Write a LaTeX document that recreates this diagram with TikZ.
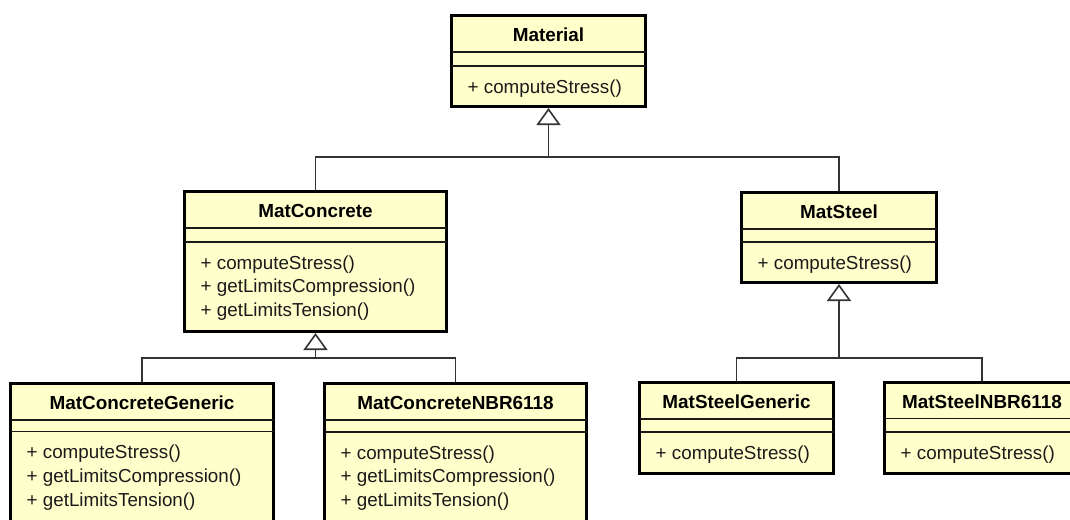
\documentclass[tikz,border=0pt]{standalone}
\usepackage{fontspec}
\setmainfont{Liberation Sans}
\usetikzlibrary{arrows.meta,fit}

\definecolor{classfill}{HTML}{FFFFCC}
\definecolor{ink}{HTML}{1A1A1A}
\definecolor{wire}{HTML}{333333}

\tikzset{
  classbox/.style={rectangle, draw=black, line width=3pt, fill=classfill, inner sep=0pt},
  sepline/.style={draw=ink, line width=1.3pt},
  classname/.style={font=\bfseries\fontsize{18.9}{22}\selectfont, anchor=base, inner sep=0pt, text=black},
  member/.style={font=\fontsize{18.8}{22}\selectfont, anchor=base west, inner sep=0pt, text=ink},
  wireline/.style={draw=wire, line width=1.6pt},
  inherit/.style={wireline, -{Triangle[length=17pt,width=24pt,fill=white]}}
}

% UML class: name, left, top, right, bottom, first separator, second separator, title, operations
\newcommand{\umlclass}[9]{%
  \node[classbox, fit={(#2,#3) (#4,#5)}] (#1) {};
  \draw[sepline] (#2,#6) -- (#4,#6);
  \draw[sepline] (#2,#7) -- (#4,#7);
  \node[classname] (#1-name) at ({(#2+#4)/2},{#6-10.5}) {#8};
  \foreach \m [count=\i] in {#9}
    \node[member] (#1-op\i) at ({#2+16},{#7+27+(\i-1)*23.8}) {\m};
}

\begin{document}
\begin{tikzpicture}[x=1pt,y=-1pt]
  \useasboundingbox (0,0) rectangle (1070,519);
  \fill[white] (0,0) rectangle (1070,519);
  \clip (0,0) rectangle (1070,519);

  \umlclass{material}{451.5}{15.5}{645.5}{106.5}{52}{66}{Material}{+ computeStress()}
  \umlclass{mconcrete}{184.5}{191.5}{446.5}{331.5}{228}{242}{MatConcrete}%
    {+ computeStress(),+ getLimitsCompression(),+ getLimitsTension()}
  \umlclass{msteel}{741.5}{192.5}{936.5}{282.5}{229}{242}{MatSteel}{+ computeStress()}
  \umlclass{mcgeneric}{10.5}{383.5}{273.5}{545}{420}{431.5}{MatConcreteGeneric}%
    {+ computeStress(),+ getLimitsCompression(),+ getLimitsTension()}
  \umlclass{mcnbr}{324.5}{383.5}{586.5}{545}{420}{432}{MatConcreteNBR6118}%
    {+ computeStress(),+ getLimitsCompression(),+ getLimitsTension()}
  \umlclass{msgeneric}{639.5}{382.5}{833.5}{473.5}{419}{432}{MatSteelGeneric}{+ computeStress()}
  \umlclass{msnbr}{884.5}{382.5}{1079.5}{473.5}{418.5}{432}{MatSteelNBR6118}{+ computeStress()}

  % junctions of the generalization trees
  \coordinate (j1) at (548.5,157);
  \coordinate (j2) at (315.5,358);
  \coordinate (j3) at (839,358);

  \draw[inherit] (j1) -- (material.south);
  \draw[wireline] (mconcrete.north) |- (j1);
  \draw[wireline] (msteel.north) |- (j1);

  \draw[inherit] (j2) -- (mconcrete.south);
  \draw[wireline] (mcgeneric.north) |- (j2);
  \draw[wireline] (mcnbr.north) |- (j2);

  \draw[inherit] (j3) -- (msteel.south);
  \draw[wireline] (msgeneric.north) |- (j3);
  \draw[wireline] (msnbr.north) |- (j3);
\end{tikzpicture}
\end{document}
